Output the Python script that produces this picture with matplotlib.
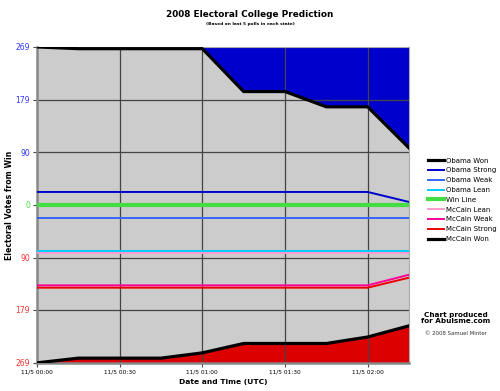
import pandas as pd
import matplotlib
matplotlib.use("Agg")
import matplotlib.pyplot as plt
from matplotlib.lines import Line2D

# Electoral votes from win, every 15 minutes on 11/5/2008 (UTC)
times = pd.date_range("2008-11-05 00:00", "2008-11-05 02:15", freq="15min")
obama_won = [269, 266, 266, 266, 266, 193, 193, 167, 167, 97]
obama_strong = [22, 22, 22, 22, 22, 22, 22, 22, 22, 5]
obama_weak = [-22, -22, -22, -22, -22, -22, -22, -22, -22, -22]
obama_lean = [-78, -78, -78, -78, -78, -78, -78, -78, -78, -78]
win_line = [0, 0, 0, 0, 0, 0, 0, 0, 0, 0]
# McCain values are plotted below the win line
mccain_lean = [82, 82, 82, 82, 82, 82, 82, 82, 82, 82]
mccain_weak = [137, 137, 137, 137, 137, 137, 137, 137, 137, 119]
mccain_strong = [141, 141, 141, 141, 141, 141, 141, 141, 141, 124]
mccain_won = [269, 261, 261, 261, 252, 236, 236, 236, 225, 206]

x_ticks = pd.date_range("2008-11-05 00:00", "2008-11-05 02:00", freq="30min")
x_labels = ["11/5 00:00", "11/5 00:30", "11/5 01:00", "11/5 01:30", "11/5 02:00"]
y_ticks = [269, 179, 90, 0, -90, -179, -269]
y_labels = ["269", "179", "90", "0", "90", "179", "269"]
y_colors = ["#3333ff", "#3333ff", "#3333ff", "#44dd44", "#ff3333", "#ff3333", "#ff3333"]

fig = plt.figure(figsize=(5, 3.91), dpi=100)
ax = fig.add_axes([0.074, 0.072, 0.744, 0.808])
ax.set_facecolor("#cccccc")

mw = [-v for v in mccain_won]
ax.fill_between(times, obama_won, 269, color="#0000cc", lw=0, zorder=1)
ax.fill_between(times, -269, mw, color="#dd0000", lw=0, zorder=1)

# grid on top of fills
for t in x_ticks[1:]:
    ax.axvline(t, color="#444444", lw=0.9, zorder=2)
for v in [179, 90, -90, -179]:
    ax.axhline(v, color="#444444", lw=0.9, zorder=2)

ax.plot(times, obama_won, color="black", lw=2.3, zorder=5)
ax.plot(times, obama_strong, color="#0000cc", lw=1.4, zorder=4)
ax.plot(times, obama_weak, color="#3366ff", lw=1.4, zorder=4)
ax.plot(times, obama_lean, color="#00ccff", lw=1.4, zorder=4)
ax.plot(times, win_line, color="#44dd44", lw=3, zorder=4)
ax.plot(times, [-v for v in mccain_lean], color="#ff99cc", lw=1.4, zorder=4)
ax.plot(times, [-v for v in mccain_weak], color="#ff0099", lw=1.4, zorder=4)
ax.plot(times, [-v for v in mccain_strong], color="#ee0000", lw=1.4, zorder=4)
ax.plot(times, mw, color="black", lw=2.3, zorder=5)

ax.set_xlim(times[0], times[-1])
ax.set_ylim(-269, 269)
ax.set_xticks(x_ticks)
ax.set_xticklabels(x_labels, fontsize=4.2)
ax.set_yticks(y_ticks)
ax.set_yticklabels(y_labels, fontsize=5.5)
for lab, c in zip(ax.get_yticklabels(), y_colors):
    lab.set_color(c)
ax.tick_params(axis="both", length=3, width=0.8, color="#444444", pad=2)

for side in ["left", "bottom"]:
    ax.spines[side].set_color("#888888")
    ax.spines[side].set_linewidth(1.8)
for side in ["right", "top"]:
    ax.spines[side].set_color("#aaaaaa")
    ax.spines[side].set_linewidth(0.8)

ax.set_xlabel("Date and Time (UTC)", fontsize=5.4, fontweight="bold", labelpad=3)
ax.set_ylabel("Electoral Votes from Win", fontsize=5.6, fontweight="bold", labelpad=1)

fig.text(0.5, 0.964, "2008 Electoral College Prediction", ha="center", va="center",
         fontsize=6.4, fontweight="bold")
fig.text(0.5, 0.939, "(Based on last 5 polls in each state)", ha="center", va="center",
         fontsize=3.2, fontweight="bold")

handles = [
    Line2D([], [], color="black", lw=2.3),
    Line2D([], [], color="#0000cc", lw=1.4),
    Line2D([], [], color="#3366ff", lw=1.4),
    Line2D([], [], color="#00ccff", lw=1.4),
    Line2D([], [], color="#44dd44", lw=3),
    Line2D([], [], color="#ff99cc", lw=1.4),
    Line2D([], [], color="#ff0099", lw=1.4),
    Line2D([], [], color="#ee0000", lw=1.4),
    Line2D([], [], color="black", lw=2.3),
]
names = ["Obama Won", "Obama Strong", "Obama Weak", "Obama Lean", "Win Line",
         "McCain Lean", "McCain Weak", "McCain Strong", "McCain Won"]
fig.legend(handles, names, loc="upper left", bbox_to_anchor=(0.856, 0.597),
           frameon=False, fontsize=5, handlelength=2.3, handletextpad=0.3,
           labelspacing=0.55, borderaxespad=0, borderpad=0)

fig.text(0.912, 0.187, "Chart produced\nfor Abulsme.com", ha="center", va="center",
         fontsize=5.2, fontweight="bold", linespacing=1.1)
fig.text(0.912, 0.146, "\u00a9 2008 Samuel Minter", ha="center", va="center",
         fontsize=3.9, color="#333333")

fig.savefig("out.png", dpi=100)
